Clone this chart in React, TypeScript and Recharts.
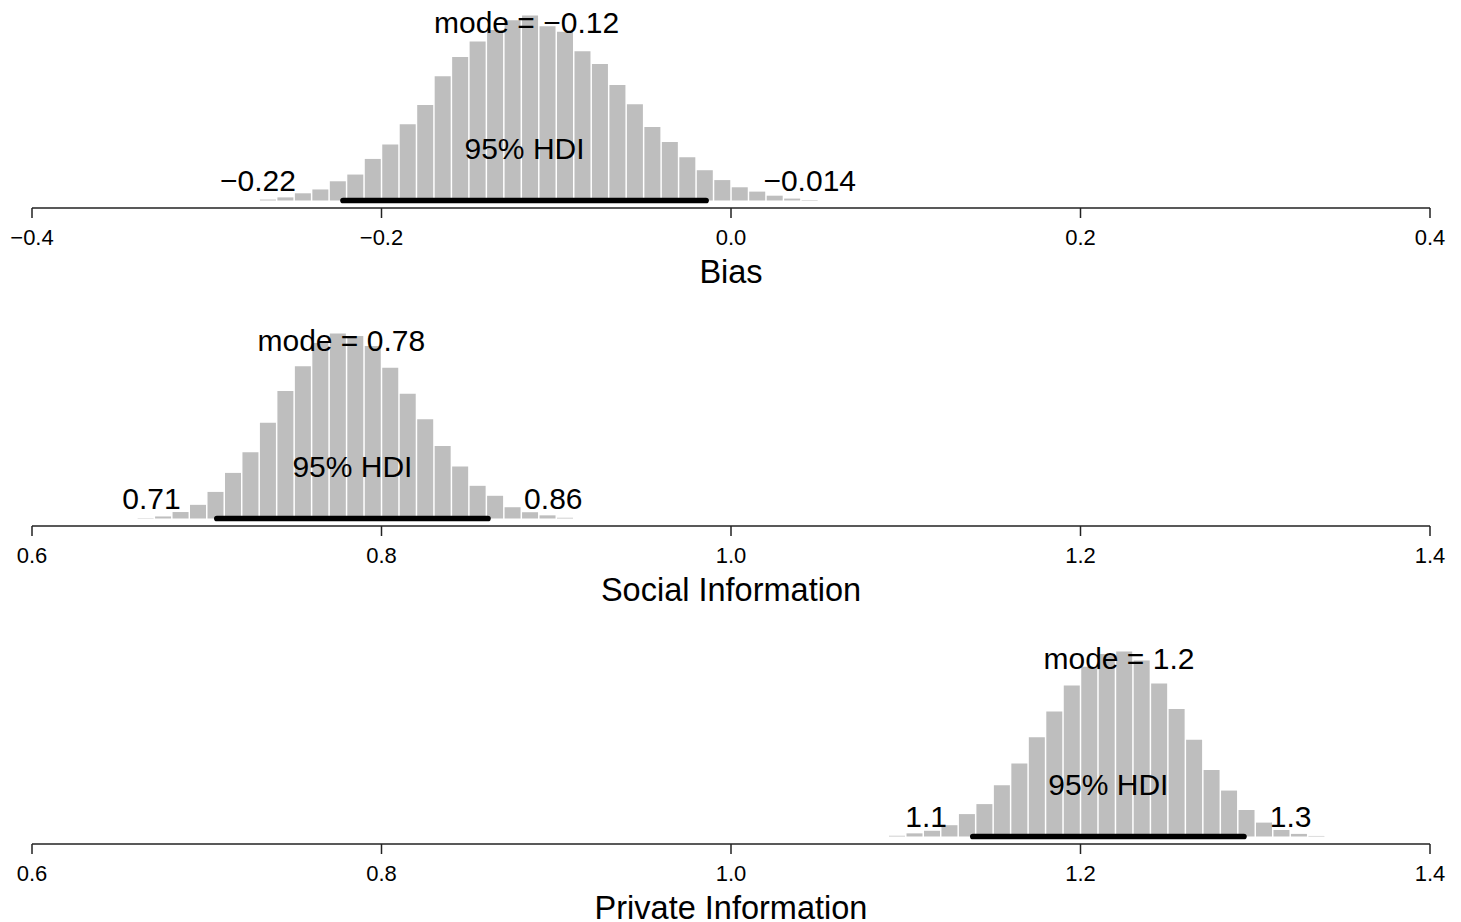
import React from 'react';
import { ComposedChart, Bar, XAxis, YAxis, ReferenceLine, ReferenceDot } from 'recharts';

const BIN_WIDTH = 0.01;

// Bias panel
const biasDomain = [-0.4, 0.4];
const biasTicks = [-0.4, -0.2, 0, 0.2, 0.4];
const biasBinStart = -0.27;
const biasDensity = [
  0.04, 0.13, 0.3, 0.46, 0.8, 1.08, 1.73, 2.33, 3.17, 3.98, 5.17, 5.97, 6.62, 7.1, 7.5, 7.7,
  7.25, 7.02, 6.21, 5.68, 4.81, 4.01, 3.06, 2.43, 1.8, 1.26, 0.85, 0.55, 0.37, 0.2, 0.08, 0.02,
];
const biasHdi = [-0.222, -0.0143];
const biasMode = -0.117;

// Social / private panels share an axis
const weightDomain = [0.6, 1.4];
const weightTicks = [0.6, 0.8, 1.0, 1.2, 1.4];

const socialBinStart = 0.66;
const socialDensity = [
  0.02, 0.11, 0.35, 0.74, 1.44, 2.47, 3.59, 5.19, 6.9, 8.25, 9.51, 10.02, 9.88, 9.34, 8.16,
  6.75, 5.37, 3.93, 2.81, 1.77, 1.23, 0.61, 0.34, 0.17, 0.04,
];
const socialHdi = [0.7058, 0.8609];
const socialMode = 0.777;

const privateBinStart = 1.09;
const privateDensity = [
  0.04, 0.17, 0.31, 0.61, 1.21, 1.75, 2.77, 3.94, 5.36, 6.75, 8.15, 9.16, 9.86, 9.99, 9.5,
  8.26, 6.89, 5.22, 3.59, 2.48, 1.43, 0.75, 0.35, 0.14, 0.03,
];
const privateHdi = [1.1384, 1.2935];
const privateMode = 1.222;

const FONT = '"Liberation Sans", Arial, Helvetica, sans-serif';
const W = 1461;
const PANEL_H = 318;
const PLOT_H = 208;
const PEAK_PX = 185;
const BASE_GAP = 7.5;
const ANNO_FS = 30;

function buildBins(domain: number[], start: number, density: number[]) {
  const n = Math.round((domain[1] - domain[0]) / BIN_WIDTH);
  const offset = Math.round((start - domain[0]) / BIN_WIDTH);
  return Array.from({ length: n }, (_, i) => {
    const j = i - offset;
    const lo = domain[0] + i * BIN_WIDTH;
    return {
      bin: i,
      mid: lo + BIN_WIDTH / 2,
      density: j >= 0 && j < density.length ? density[j] : 0,
    };
  });
}

const minus = (s: string) => s.replace('-', '\u2212');
const signif = (v: number) => minus(v.toPrecision(2));

function textWidth(s: string, fs: number) {
  let w = 0;
  for (const ch of s) {
    if (ch === '.') w += 0.278;
    else if (ch === '\u2212') w += 0.584;
    else w += 0.556;
  }
  return w * fs;
}

type PanelProps = {
  title: string;
  domain: number[];
  ticks: number[];
  start: number;
  density: number[];
  hdi: number[];
  mode: number;
  top: number;
};

function Panel({ title, domain, ticks, start, density, hdi, mode, top }: PanelProps) {
  const data = buildBins(domain, start, density);
  const maxD = Math.max(...density);
  const yDomain = [(-maxD * BASE_GAP) / PEAK_PX, (maxD * (PLOT_H - BASE_GAP)) / PEAK_PX];
  const loText = signif(hdi[0]);
  const hiText = signif(hdi[1]);
  const loW = textWidth(loText, ANNO_FS);
  const hiW = textWidth(hiText, ANNO_FS);

  const txt = (s: string, dx: number, dy: number, anchor: string) => (p: any) => (
    <text
      x={p.cx + dx}
      y={p.cy + dy}
      textAnchor={anchor}
      fontSize={ANNO_FS}
      fontFamily={FONT}
      fill="#000"
    >
      {s}
    </text>
  );

  const renderTick = (p: any) => (
    <text
      x={p.x}
      y={p.y + 27}
      textAnchor="middle"
      fontSize={22}
      fontFamily={FONT}
      fill="#000"
    >
      {minus(Number(p.payload.value).toFixed(1))}
    </text>
  );

  return (
    <div style={{ position: 'absolute', left: 0, top, width: W, height: PANEL_H }}>
      <ComposedChart
        width={W}
        height={PANEL_H}
        data={data}
        margin={{ top: 0, right: 31, bottom: 0, left: 32 }}
        barCategoryGap={0.75}
        barGap={0}
      >
        <XAxis xAxisId="cat" dataKey="bin" type="category" hide height={0} />
        <XAxis
          xAxisId="num"
          dataKey="mid"
          type="number"
          domain={domain}
          allowDataOverflow
          ticks={ticks}
          interval={0}
          height={PANEL_H - PLOT_H}
          tickSize={10}
          tickMargin={0}
          tick={renderTick}
          axisLine={{ stroke: '#222', strokeWidth: 1.5 }}
          tickLine={{ stroke: '#222', strokeWidth: 1.5 }}
          label={{
            value: title,
            position: 'insideBottom',
            offset: 35,
            fontSize: 32.5,
            fontFamily: FONT,
            fill: '#000',
          }}
        />
        <YAxis hide type="number" domain={yDomain} allowDataOverflow width={0} />
        <Bar dataKey="density" xAxisId="cat" fill="#BEBEBE" isAnimationActive={false} />
        <ReferenceLine
          xAxisId="num"
          segment={[
            { x: hdi[0], y: 0 },
            { x: hdi[1], y: 0 },
          ]}
          stroke="#000"
          strokeWidth={5.7}
          strokeLinecap="round"
          ifOverflow="visible"
        />
        <ReferenceDot
          xAxisId="num"
          x={mode}
          y={0.9 * maxD}
          r={0}
          ifOverflow="visible"
          shape={txt(`mode = ${signif(mode)}`, 0, -1, 'middle')}
        />
        <ReferenceDot
          xAxisId="num"
          x={(hdi[0] + hdi[1]) / 2}
          y={0}
          r={0}
          ifOverflow="visible"
          shape={txt('95% HDI', 0, -42, 'middle')}
        />
        <ReferenceDot
          xAxisId="num"
          x={hdi[0]}
          y={0}
          r={0}
          ifOverflow="visible"
          shape={txt(loText, -0.62 * loW, -10, 'end')}
        />
        <ReferenceDot
          xAxisId="num"
          x={hdi[1]}
          y={0}
          r={0}
          ifOverflow="visible"
          shape={txt(hiText, 0.62 * hiW, -10, 'start')}
        />
      </ComposedChart>
    </div>
  );
}

export default function App() {
  return (
    <div
      style={{
        position: 'absolute',
        left: 0,
        top: 0,
        width: W,
        height: 922,
        background: '#fff',
        overflow: 'hidden',
      }}
    >
      <Panel
        title="Bias"
        domain={biasDomain}
        ticks={biasTicks}
        start={biasBinStart}
        density={biasDensity}
        hdi={biasHdi}
        mode={biasMode}
        top={0}
      />
      <Panel
        title="Social Information"
        domain={weightDomain}
        ticks={weightTicks}
        start={socialBinStart}
        density={socialDensity}
        hdi={socialHdi}
        mode={socialMode}
        top={PANEL_H}
      />
      <Panel
        title="Private Information"
        domain={weightDomain}
        ticks={weightTicks}
        start={privateBinStart}
        density={privateDensity}
        hdi={privateHdi}
        mode={privateMode}
        top={PANEL_H * 2}
      />
    </div>
  );
}
